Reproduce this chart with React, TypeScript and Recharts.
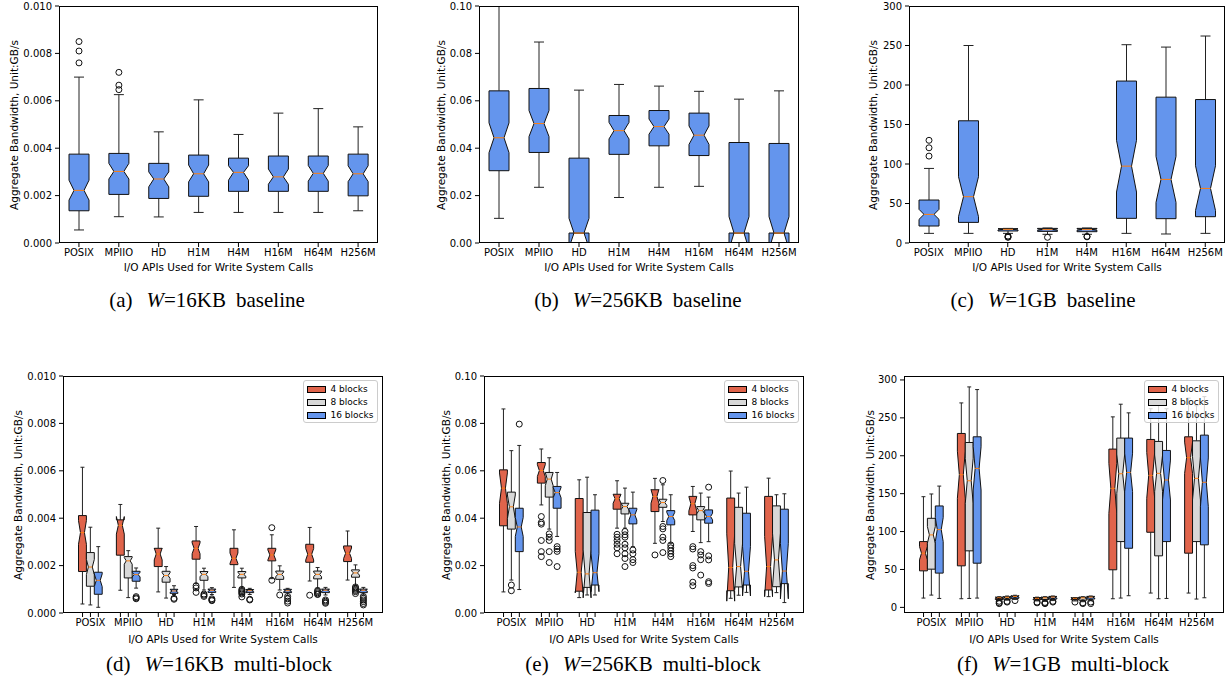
import React from "react";
import { ComposedChart, Bar, XAxis, YAxis, Legend } from "recharts";

const apis = ["POSIX", "MPIIO", "HD", "H1M", "H4M", "H16M", "H64M", "H256M"];
const blockNames = ["4 blocks", "8 blocks", "16 blocks"];

// every row: [low whisker, Q1, median, Q3, high whisker, notch low, notch high]
const base16k = [
  [0.00055, 0.00136, 0.00222, 0.00375, 0.007, 0.00181, 0.00265],
  [0.00111, 0.00205, 0.00302, 0.00378, 0.00626, 0.0027, 0.00336],
  [0.0011, 0.00188, 0.0027, 0.00336, 0.00469, 0.00237, 0.003],
  [0.00129, 0.00197, 0.00292, 0.00371, 0.00604, 0.00258, 0.00329],
  [0.00129, 0.00218, 0.00298, 0.00358, 0.00458, 0.00265, 0.00326],
  [0.00129, 0.00218, 0.00279, 0.00367, 0.00548, 0.00248, 0.00312],
  [0.00129, 0.00218, 0.00294, 0.00367, 0.00567, 0.00261, 0.00327],
  [0.00136, 0.00199, 0.00292, 0.00375, 0.0049, 0.00259, 0.00326],
];
const base16kOut = [[0.0085, 0.0081, 0.0076], [0.0072, 0.00666, 0.00647], [], [], [], [], [], []];

const base256k = [
  [0.0104, 0.0305, 0.0444, 0.0642, 0.105, 0.0381, 0.0507],
  [0.0235, 0.0382, 0.0504, 0.0652, 0.0848, 0.0449, 0.0559],
  [0.0042, 0.0042, 0.0042, 0.0358, 0.0645, -0.002, 0.0104],
  [0.0192, 0.0374, 0.0474, 0.0538, 0.0669, 0.0439, 0.0509],
  [0.0235, 0.041, 0.0491, 0.0559, 0.0662, 0.0459, 0.0523],
  [0.0239, 0.0369, 0.0455, 0.0548, 0.064, 0.0416, 0.0494],
  [0.0042, 0.0042, 0.0042, 0.0424, 0.0607, -0.0027, 0.0111],
  [0.0042, 0.0042, 0.0042, 0.042, 0.0642, -0.0027, 0.0111],
];
const base256kOut = [[], [], [], [], [], [], [], []];

const base1g = [
  [12.2, 21.5, 36.2, 54.4, 94.4, 29.9, 42.6],
  [12.2, 26.1, 58.6, 154.7, 250, 33.3, 83.9],
  [12.2, 15.2, 17.3, 18.1, 18.5, 16.5, 18.1],
  [11, 14.7, 16.9, 18.5, 19, 16, 17.8],
  [11, 14.3, 16.9, 18.5, 19, 16, 17.8],
  [12.2, 31.2, 97.3, 205, 251, 64.5, 130],
  [11.4, 30.8, 80.5, 184.6, 248, 51.4, 109.6],
  [12.2, 33.3, 69.1, 181.6, 262, 41, 97.8],
];
const base1gOut = [[110, 120.5, 130], [], [8.8, 7.6, 7.2], [7.2], [8.4, 7.8], [], [], []];

const multi16k4 = [
  [0.00038, 0.00175, 0.00339, 0.00411, 0.00615, 0.0029, 0.0039],
  [0.00096, 0.00244, 0.0037, 0.00393, 0.00458, 0.00333, 0.00407],
  [0.00089, 0.00196, 0.00249, 0.00273, 0.00358, 0.00224, 0.00274],
  [0.00125, 0.00227, 0.00273, 0.00304, 0.00365, 0.0025, 0.00296],
  [0.00108, 0.00204, 0.00231, 0.00273, 0.00351, 0.00209, 0.00253],
  [0.00145, 0.0022, 0.00245, 0.00273, 0.0033, 0.00224, 0.00266],
  [0.00135, 0.00214, 0.00248, 0.0029, 0.00361, 0.00224, 0.00272],
  [0.00139, 0.00217, 0.00252, 0.00283, 0.00346, 0.0023, 0.00274],
];
const multi16k4Out = [[], [], [], [0.00115, 0.00106, 0.00087], [], [0.0036, 0.00138], [0.00075], []];
const multi16k8 = [
  [0.00034, 0.00113, 0.00194, 0.00255, 0.00362, 0.00162, 0.00226],
  [0.00065, 0.00148, 0.0022, 0.00238, 0.00263, 0.00206, 0.00234],
  [0.00063, 0.0013, 0.00158, 0.00176, 0.00196, 0.00146, 0.0017],
  [0.00097, 0.00138, 0.00163, 0.00175, 0.00189, 0.00153, 0.00173],
  [0.00105, 0.00148, 0.00163, 0.00175, 0.00189, 0.00155, 0.00171],
  [0.00097, 0.00142, 0.00163, 0.00177, 0.00199, 0.00153, 0.00173],
  [0.00105, 0.00144, 0.00163, 0.00177, 0.00192, 0.00153, 0.00173],
  [0.00115, 0.00151, 0.00169, 0.00182, 0.00203, 0.0016, 0.00178],
];
const multi16k8Out = [
  [], [], [], [0.0008, 0.00075, 0.0007],
  [0.001, 0.00095, 0.0009, 0.00085, 0.0008, 0.00068], [0.00076],
  [0.00095, 0.0009, 0.00085, 0.0008, 0.00078], [0.0011, 0.00105, 0.001, 0.00095, 0.0009, 0.00082],
];
const multi16k16 = [
  [0.00024, 0.00079, 0.00138, 0.00172, 0.0028, 0.00111, 0.00165],
  [0.00105, 0.00134, 0.00162, 0.00176, 0.0019, 0.00152, 0.00172],
  [0.00078, 0.00083, 0.00093, 0.001, 0.00115, 0.00087, 0.00099],
  [0.00078, 0.00087, 0.00096, 0.00101, 0.00107, 0.00091, 0.001],
  [0.00078, 0.00086, 0.00094, 0.00099, 0.00104, 0.0009, 0.00098],
  [0.00074, 0.00086, 0.00094, 0.001, 0.00104, 0.0009, 0.00098],
  [0.00076, 0.00086, 0.00096, 0.00101, 0.00108, 0.00092, 0.001],
  [0.00076, 0.00086, 0.00096, 0.00101, 0.00108, 0.00092, 0.001],
];
const multi16k16Out = [
  [], [0.00069, 0.00064, 0.0006], [0.00062, 0.00058], [0.0006, 0.00055, 0.00052], [0.00058, 0.00055],
  [0.0007, 0.0006, 0.0005, 0.00042], [0.00055, 0.0005, 0.00045, 0.00041],
  [0.0007, 0.00062, 0.00055, 0.00048, 0.0004, 0.00034],
];

const multi256k4 = [
  [0.0089, 0.0368, 0.0527, 0.0604, 0.0861, 0.0463, 0.0591],
  [0.0456, 0.0548, 0.0601, 0.0635, 0.0692, 0.0576, 0.0626],
  [0.0065, 0.0092, 0.0172, 0.0483, 0.0562, 0.0085, 0.0259],
  [0.0358, 0.0438, 0.0482, 0.0501, 0.0558, 0.0463, 0.0501],
  [0.0294, 0.0428, 0.0492, 0.052, 0.0568, 0.0463, 0.0521],
  [0.0344, 0.0414, 0.0461, 0.0492, 0.0534, 0.0431, 0.0491],
  [0.0062, 0.0094, 0.0192, 0.0485, 0.0599, 0.005, 0.0334],
  [0.0069, 0.0097, 0.0196, 0.0492, 0.0569, 0.0069, 0.0323],
];
const multi256k4Out = [
  [], [0.0407, 0.0382, 0.0375, 0.0306, 0.0259, 0.0238], [],
  [0.0332, 0.032, 0.0306, 0.029, 0.0275, 0.025], [0.0245],
  [0.028, 0.027, 0.02, 0.019, 0.013, 0.0115], [], [],
];
const multi256k8 = [
  [0.0139, 0.0354, 0.0448, 0.051, 0.0685, 0.0398, 0.0498],
  [0.0354, 0.0489, 0.0565, 0.0593, 0.0655, 0.0537, 0.0593],
  [0.0076, 0.0108, 0.0165, 0.0424, 0.0573, 0.0064, 0.0266],
  [0.0358, 0.0418, 0.0449, 0.0463, 0.0527, 0.0435, 0.0463],
  [0.0386, 0.0446, 0.0466, 0.048, 0.0541, 0.0454, 0.0478],
  [0.0297, 0.0393, 0.0432, 0.0449, 0.0506, 0.0418, 0.0446],
  [0.0075, 0.011, 0.0196, 0.0446, 0.0506, 0.0098, 0.0294],
  [0.0086, 0.0111, 0.0224, 0.0452, 0.0499, 0.0111, 0.0337],
];
const multi256k8Out = [
  [0.0118, 0.0094], [0.0334, 0.032, 0.0306, 0.0259, 0.0213], [],
  [0.0344, 0.033, 0.032, 0.029, 0.0275, 0.025, 0.023, 0.0196],
  [0.0559, 0.0365, 0.0355, 0.032, 0.0306, 0.0255], [0.0259, 0.0245, 0.0225, 0.016], [], [],
];
const multi256k16 = [
  [0.0099, 0.0259, 0.0363, 0.0442, 0.0707, 0.0323, 0.0403],
  [0.0323, 0.0442, 0.0508, 0.0534, 0.0593, 0.0486, 0.053],
  [0.0076, 0.0118, 0.017, 0.0434, 0.0499, 0.009, 0.025],
  [0.028, 0.0376, 0.0414, 0.0442, 0.051, 0.0392, 0.0436],
  [0.0294, 0.0372, 0.0407, 0.0432, 0.0499, 0.039, 0.0424],
  [0.0301, 0.0379, 0.0407, 0.0435, 0.0489, 0.0393, 0.0421],
  [0.0087, 0.0118, 0.0176, 0.0421, 0.0531, 0.0072, 0.028],
  [0.0044, 0.0124, 0.0177, 0.0438, 0.0503, 0.006, 0.0294],
];
const multi256k16Out = [
  [0.0797], [0.028, 0.027, 0.026, 0.0196], [], [0.0266, 0.025, 0.0225, 0.0213],
  [0.0287, 0.0275, 0.0262, 0.025, 0.0238], [0.0531, 0.0241, 0.0224, 0.0132, 0.0125], [], [],
];

const multi1g4 = [
  [12.3, 48.2, 71.5, 86.8, 146, 62.7, 80.3],
  [11.4, 54.8, 175, 229.4, 269.7, 143.9, 206],
  [9, 10.5, 12.5, 13.5, 14, 11.5, 13.5],
  [8.5, 10, 12, 13, 13.5, 11, 13],
  [8.5, 10, 12, 12.5, 13, 11, 13],
  [11.4, 49.6, 157, 208.8, 251.3, 124, 190],
  [18.9, 99.1, 174.1, 221.5, 262, 143.9, 204.3],
  [18.9, 71.5, 197.4, 225, 276, 176.8, 218],
];
const multi1g4Out = [[], [], [8, 6, 5], [7, 6], [7], [], [], []];
const multi1g8 = [
  [16.2, 50.4, 95.6, 117.5, 149.6, 84.6, 106.6],
  [11.8, 74.6, 167, 217.5, 290.8, 137.3, 196.7],
  [9.5, 11, 13.3, 14, 15, 12.3, 14.3],
  [8, 10.5, 12.5, 13.5, 14, 11.5, 13.5],
  [7.5, 9.5, 12.5, 13.5, 14, 11.5, 13.5],
  [12.3, 86.8, 176.3, 223.3, 268, 150.4, 202.2],
  [11.4, 68, 176.8, 218.9, 270, 152.6, 201],
  [11, 86.8, 170.2, 219.7, 266, 141.7, 198.7],
];
const multi1g8Out = [[], [], [8, 7], [6.5, 5.5, 5], [6, 5], [], [], []];
const multi1g16 = [
  [11.8, 45.2, 102.6, 133.8, 160, 86.8, 118.4],
  [12.3, 58.3, 183.3, 225, 287.3, 154.8, 211.8],
  [10.5, 12, 14.5, 15, 16, 13.5, 15.5],
  [9, 11, 13.5, 14.5, 15, 12.5, 14.5],
  [9, 11, 13.5, 14.5, 15, 12.5, 14.5],
  [15.4, 78, 178, 223.3, 256.6, 152.6, 203.4],
  [11.8, 86.8, 168, 207, 262, 141.7, 194.3],
  [12.7, 82.5, 165, 227.2, 278, 132.9, 197.1],
];
const multi1g16Out = [[], [], [9], [8, 7], [7, 5], [], [], []];

const FONT = "'DejaVu Sans', sans-serif";
const RED = "#e0644b";
const GREY = "#d8d8d8";
const BLUE = "#6495ed";

const single = (stats: number[][], out: number[][]) => [{ name: "", color: BLUE, stats, out }];
const triple = (s: number[][][], o: number[][][]) =>
  [RED, GREY, BLUE].map((color, k) => ({ name: blockNames[k], color, stats: s[k], out: o[k] }));

const panels = [
  {
    tag: "(a)", w: "16KB", kind: "baseline", x: 59, y: 6, pw: 319, labelX: 13.5, capX: 207,
    domain: [0, 0.01], ticks: [0, 0.002, 0.004, 0.006, 0.008, 0.01], digits: 3,
    series: single(base16k, base16kOut),
  },
  {
    tag: "(b)", w: "256KB", kind: "baseline", x: 479, y: 6, pw: 320, labelX: 441, capX: 638,
    domain: [0, 0.1], ticks: [0, 0.02, 0.04, 0.06, 0.08, 0.1], digits: 2,
    series: single(base256k, base256kOut),
  },
  {
    tag: "(c)", w: "1GB", kind: "baseline", x: 909, y: 6, pw: 316, labelX: 873, capX: 1043,
    domain: [0, 300], ticks: [0, 50, 100, 150, 200, 250, 300], digits: 0,
    series: single(base1g, base1gOut),
  },
  {
    tag: "(d)", w: "16KB", kind: "multi-block", x: 63, y: 376, pw: 320, labelX: 18, capX: 219,
    domain: [0, 0.01], ticks: [0, 0.002, 0.004, 0.006, 0.008, 0.01], digits: 3,
    series: triple([multi16k4, multi16k8, multi16k16], [multi16k4Out, multi16k8Out, multi16k16Out]),
  },
  {
    tag: "(e)", w: "256KB", kind: "multi-block", x: 484, y: 376, pw: 320, labelX: 446, capX: 643,
    domain: [0, 0.1], ticks: [0, 0.02, 0.04, 0.06, 0.08, 0.1], digits: 2,
    series: triple([multi256k4, multi256k8, multi256k16], [multi256k4Out, multi256k8Out, multi256k16Out]),
  },
  {
    tag: "(f)", w: "1GB", kind: "multi-block", x: 904, y: 376, pw: 320, labelX: 870, capX: 1063,
    domain: [-7.4, 305.2], ticks: [0, 50, 100, 150, 200, 250, 300], digits: 0,
    series: triple([multi1g4, multi1g8, multi1g16], [multi1g4Out, multi1g8Out, multi1g16Out]),
  },
];

const PH = 237;

function BoxGlyph(props: any) {
  const { x, y, width, height, fill, box, range } = props;
  if (!box || !range) return null;
  const [lo, hi] = range;
  const py = (v: number) => y + (height * (hi - v)) / (hi - lo);
  const [low, q1, med, q3, high, nlo, nhi] = box.st;
  const l = x, r = x + width, cx = x + width / 2;
  const wl = x + width / 4, wr = x + (width * 3) / 4;
  const pts: [number, number][] = [
    [l, q1], [l, nlo], [wl, med], [l, nhi], [l, q3],
    [r, q3], [r, nhi], [wr, med], [r, nlo], [r, q1],
  ];
  const d = pts.map(([px, v], i) => `${i ? "L" : "M"}${px},${py(v)}`).join(" ") + " Z";
  return (
    <g>
      <line x1={cx} x2={cx} y1={py(q1)} y2={py(low)} stroke="#222" />
      <line x1={cx} x2={cx} y1={py(q3)} y2={py(high)} stroke="#222" />
      <line x1={wl} x2={wr} y1={py(low)} y2={py(low)} stroke="#222" />
      <line x1={wl} x2={wr} y1={py(high)} y2={py(high)} stroke="#222" />
      <path d={d} fill={fill} stroke="#111" />
      <line x1={wl} x2={wr} y1={py(med)} y2={py(med)} stroke="#ff7f0e" />
      {box.out.map((v: number, i: number) => (
        <circle key={i} cx={cx} cy={py(v)} r={3} fill="none" stroke="#111" />
      ))}
    </g>
  );
}

function TripleTick(props: any) {
  const { x, y, payload, step } = props;
  const top = y - 6;
  return (
    <g>
      {[-1, 0, 1].map((k) => (
        <line key={k} x1={x + k * step} x2={x + k * step} y1={top} y2={top + 4} stroke="#000" />
      ))}
      <text x={x} y={y} dy="0.71em" textAnchor="middle" fontSize={10} fontFamily={FONT} fill="#000">
        {payload.value}
      </text>
    </g>
  );
}

function LegendBox({ payload }: any) {
  const entries = [...(payload || [])].sort(
    (a: any, b: any) => blockNames.indexOf(a.value) - blockNames.indexOf(b.value)
  );
  return (
    <div
      style={{
        width: 75, boxSizing: "border-box", background: "rgba(255,255,255,0.8)",
        border: "1px solid #ccc", borderRadius: 3, padding: "2px 3px 0 3px",
        fontFamily: FONT, fontSize: 9, color: "#000",
      }}
    >
      {entries.map((e: any) => (
        <div key={e.value} style={{ display: "flex", alignItems: "center", height: 13 }}>
          <span
            style={{
              width: 19, height: 7, background: e.color, border: "1px solid #000",
              boxSizing: "border-box", marginRight: 5, flex: "none",
            }}
          />
          <span style={{ lineHeight: "13px", whiteSpace: "nowrap" }}>{e.value}</span>
        </div>
      ))}
    </div>
  );
}

function Panel({ p }: any) {
  const multi = p.series.length > 1;
  const barSize = multi ? 7.9 : 20;
  const data = apis.map((api, i) => {
    const row: any = { api };
    p.series.forEach((s: any, k: number) => {
      const all = [...s.stats[i], ...s.out[i]];
      row[`r${k}`] = [Math.min(...all), Math.max(...all)];
      row[`b${k}`] = { st: s.stats[i], out: s.out[i] };
    });
    return row;
  });
  const midY = p.y + PH / 2;
  const titleY = p.y < 100 ? 267 : 638.5;
  const capY = p.y < 100 ? 300 : 664;
  return (
    <>
      <div style={{ position: "absolute", left: p.x - 60, top: p.y - 10 }}>
        <ComposedChart
          width={p.pw + 70}
          height={PH + 50}
          data={data}
          margin={{ top: 10, right: 10, bottom: 0, left: 0 }}
          barGap={0}
        >
          <XAxis
            dataKey="api"
            interval={0}
            height={40}
            padding={multi ? { left: 8.5, right: 8.5 } : { left: 0, right: 0 }}
            tickSize={4}
            tickMargin={2}
            axisLine={false}
            tickLine={multi ? { stroke: "none" } : { stroke: "#000" }}
            tick={
              multi
                ? (tp: any) => <TripleTick {...tp} step={barSize} />
                : { fontSize: 10, fill: "#000", fontFamily: FONT }
            }
          />
          <YAxis
            width={60}
            type="number"
            domain={p.domain}
            ticks={p.ticks}
            allowDataOverflow
            tickFormatter={(v: number) => v.toFixed(p.digits)}
            tickSize={4}
            tickMargin={3}
            axisLine={false}
            tickLine={{ stroke: "#000" }}
            tick={{ fontSize: 10, fill: "#000", fontFamily: FONT }}
          />
          {p.series.map((s: any, k: number) => (
            <Bar
              key={k}
              dataKey={`r${k}`}
              name={s.name}
              fill={s.color}
              barSize={barSize}
              isAnimationActive={false}
              shape={(bp: any) => (
                <BoxGlyph {...bp} box={bp.payload[`b${k}`]} range={bp.payload[`r${k}`]} />
              )}
            />
          ))}
          {multi && (
            <Legend
              layout="vertical"
              align="center"
              verticalAlign="middle"
              content={(lp: any) => <LegendBox payload={lp.payload} />}
              wrapperStyle={{
                left: 60 + p.pw - 5.5 - 75, top: 13.5, width: "auto", height: "auto",
                right: "auto", bottom: "auto",
              }}
            />
          )}
        </ComposedChart>
      </div>
      <div
        style={{
          position: "absolute", left: p.x, top: p.y, width: p.pw, height: PH,
          border: "1px solid #000", boxSizing: "border-box", pointerEvents: "none",
        }}
      />
      <div
        style={{
          position: "absolute", left: p.labelX, top: midY, transform: "translate(-50%, -50%) rotate(-90deg)",
          whiteSpace: "nowrap", fontFamily: FONT, fontSize: 10.5, color: "#000",
        }}
      >
        Aggregate Bandwidth, Unit:GB/s
      </div>
      <div
        style={{
          position: "absolute", left: p.x + p.pw / 2, top: titleY, transform: "translate(-50%, -50%)",
          whiteSpace: "nowrap", fontFamily: FONT, fontSize: 10.5, color: "#000",
        }}
      >
        I/O APIs Used for Write System Calls
      </div>
      <div
        style={{
          position: "absolute", left: p.capX, top: capY, transform: "translate(-50%, -50%)",
          whiteSpace: "nowrap", fontFamily: "'Liberation Serif', serif", fontSize: 21, color: "#000",
        }}
      >
        <span style={{ marginRight: 14 }}>{p.tag}</span>
        <i>W</i>=<span style={{ marginRight: 10 }}>{p.w}</span>
        {p.kind}
      </div>
    </>
  );
}

export default function App() {
  return (
    <div
      style={{
        position: "absolute", left: 0, top: 0, width: 1229, height: 690,
        background: "#fff", overflow: "hidden",
      }}
    >
      {panels.map((p) => (
        <Panel key={p.tag} p={p} />
      ))}
    </div>
  );
}
